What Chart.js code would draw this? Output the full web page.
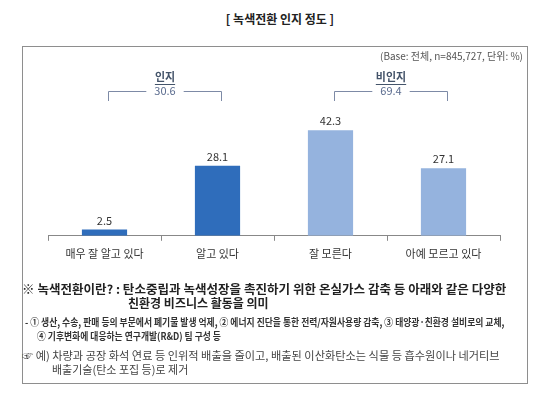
<!DOCTYPE html>
<html>
<head>
<meta charset="utf-8">
<script src="https://cdn.jsdelivr.net/npm/chart.js@4.4.1/dist/chart.umd.min.js"></script>
<style>
  body { margin: 0; background: #fff; font-family: "Noto Sans CJK KR", sans-serif; }
  #wrap { position: relative; width: 560px; height: 396px; overflow: hidden; }
  #box { position: absolute; left: 22px; top: 46px; width: 504px; height: 336px; border: 1px solid #8e8e8e; }
  #chart { position: absolute; left: 0; top: 0; }
  .t { position: absolute; white-space: nowrap; line-height: 1; transform-origin: 0 50%; }
</style>
</head>
<body>
<div id="wrap">
  <div class="t" id="title" style="left:0;width:560px;text-align:center;top:13px;font-size:12px;font-weight:bold;color:#222;">[ 녹색전환 인지 정도 ]</div>
  <div id="box"></div>
  <canvas id="chart" width="560" height="396"></canvas>
  <div class="t" style="right:37px;top:51px;font-size:10px;color:#555;">(Base: 전체, n=845,727, 단위: %)</div>

  <div class="t fit" data-w="484" style="left:22px;top:283px;font-size:12px;font-weight:bold;color:#222;">※ 녹색전환이란? : 탄소중립과 녹색성장을 촉진하기 위한 온실가스 감축 등 아래와 같은 다양한</div>
  <div class="t" style="left:128px;top:297px;font-size:12px;font-weight:bold;color:#222;">친환경 비즈니스 활동을 의미</div>
  <div class="t fit" id="cond1" data-w="479" style="left:25px;top:317px;font-size:10px;font-weight:bold;color:#333;">- ① 생산, 수송, 판매 등의 부문에서 폐기물 발생 억제, ② 에너지 진단을 통한 전력/자원사용량 감축, ③ 태양광·친환경 설비로의 교체,</div>
  <div class="t" id="cond2" style="left:37px;top:331px;font-size:10px;font-weight:bold;color:#333;">④ 기후변화에 대응하는 연구개발(R&amp;D) 팀 구성 등</div>
  <div class="t fit" data-w="478" style="left:22px;top:350px;font-size:11px;color:#444;">☞ 예) 차량과 공장 화석 연료 등 인위적 배출을 줄이고, 배출된 이산화탄소는 식물 등 흡수원이나 네거티브</div>
  <div class="t" style="left:52px;top:364px;font-size:11px;color:#444;">배출기술(탄소 포집 등)로 제거</div>
</div>

<script>
var categories = ['매우 잘 알고 있다', '알고 있다', '잘 모른다', '아예 모르고 있다'];
var values = [2.5, 28.1, 42.3, 27.1];
var barColors = ['#2f6dbb', '#2f6dbb', '#95b3de', '#95b3de'];

// 인지 / 비인지 묶음
var groupNames = ['인지', '비인지'];
var groupValues = [30.6, 69.4];
var groupFrom = [0, 2];
var groupTo = [1, 3];

var FONT = '"Noto Sans CJK KR", sans-serif';

var valueLabels = {
  id: 'valueLabels',
  afterDatasetsDraw: function(chart) {
    var ctx = chart.ctx;
    var meta = chart.getDatasetMeta(0);
    ctx.save();
    ctx.font = '11px ' + FONT;
    ctx.fillStyle = '#333';
    ctx.textAlign = 'center';
    ctx.textBaseline = 'middle';
    meta.data.forEach(function(bar, i) {
      ctx.fillText(values[i].toFixed(1), bar.x, bar.y - 9);
    });
    ctx.restore();
  }
};

var groupBrackets = {
  id: 'groupBrackets',
  afterDraw: function(chart) {
    var ctx = chart.ctx;
    var xs = chart.scales.x;
    var yLine = 91, yFoot = 101, yName = 77;
    ctx.save();
    ctx.textAlign = 'center';
    ctx.textBaseline = 'middle';
    for (var g = 0; g < groupNames.length; g++) {
      var x1 = Math.round(xs.getPixelForValue(groupFrom[g]) + 3) + 0.5;
      var x2 = Math.round(xs.getPixelForValue(groupTo[g]) + 3) + 0.5;
      var xm = (x1 + x2) / 2;
      var label = groupValues[g].toFixed(1);
      ctx.font = '11px ' + FONT;
      var gap = ctx.measureText(label).width / 2 + 8;

      ctx.strokeStyle = '#7d8aa6';
      ctx.lineWidth = 1;
      ctx.beginPath();
      ctx.moveTo(x1, yFoot); ctx.lineTo(x1, yLine + 0.5); ctx.lineTo(xm - gap, yLine + 0.5);
      ctx.moveTo(xm + gap, yLine + 0.5); ctx.lineTo(x2, yLine + 0.5); ctx.lineTo(x2, yFoot);
      ctx.stroke();

      ctx.fillStyle = '#5a6b8e';
      ctx.fillText(label, xm, yLine);

      ctx.font = 'bold 11px ' + FONT;
      ctx.fillStyle = '#44546a';
      ctx.fillText(groupNames[g], xm, yName);
      var w = ctx.measureText(groupNames[g]).width;
      ctx.strokeStyle = '#44546a';
      ctx.beginPath();
      ctx.moveTo(xm - w / 2, yName + 7.5); ctx.lineTo(xm + w / 2, yName + 7.5);
      ctx.stroke();
    }
    ctx.restore();
  }
};

function fitLines() {
  document.querySelectorAll('.fit').forEach(function(el) {
    var w = +el.getAttribute('data-w');
    el.style.transform = 'scaleX(' + (w / el.scrollWidth) + ')';
  });
  // 두번째 줄은 첫 줄과 같은 비율로 압축
  var c1 = document.getElementById('cond1');
  document.getElementById('cond2').style.transform = c1.style.transform;
}

function drawChart() {
  var ctx = document.getElementById('chart').getContext('2d');
  new Chart(ctx, {
    type: 'bar',
    data: {
      labels: categories,
      datasets: [{
        data: values,
        backgroundColor: barColors,
        borderWidth: 0,
        barPercentage: 0.4,
        categoryPercentage: 1
      }]
    },
    options: {
      responsive: false,
      animation: false,
      layout: { padding: { left: 48, right: 60, top: 111, bottom: 130 } },
      plugins: { legend: { display: false }, tooltip: { enabled: false } },
      scales: {
        x: {
          grid: { drawOnChartArea: false, drawTicks: true, tickLength: 5, color: '#888' },
          border: { color: '#888' },
          ticks: { color: '#333', padding: 6, font: { family: FONT, size: 11 } }
        },
        y: { display: false, min: 0, max: 50 }
      }
    },
    plugins: [valueLabels, groupBrackets]
  });
}

function init() {
  fitLines();
  drawChart();
}

if (document.fonts && document.fonts.ready) {
  document.fonts.ready.then(init);
} else {
  window.onload = init;
}
</script>
</body>
</html>
